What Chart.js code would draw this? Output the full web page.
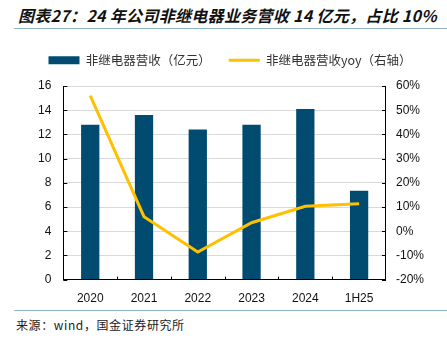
<!DOCTYPE html>
<html>
<head>
<meta charset="utf-8">
<script src="https://cdn.jsdelivr.net/npm/chart.js@4"></script>
<style>
  html, body { margin: 0; padding: 0; background: #fff; }
  body { width: 447px; height: 341px; position: relative; overflow: hidden; font-family: "Noto Sans CJK SC", sans-serif; }
  #titulo { position: absolute; left: 18px; top: 3px; font-size: 16px; font-weight: bold; font-style: italic; color: #111; white-space: nowrap; letter-spacing: 0.3px; }
  .regla { position: absolute; left: 14px; right: 0; height: 1px; background: #8fb4c9; }
  #fuente { position: absolute; left: 16px; top: 316px; font-size: 12px; color: #222; white-space: nowrap; letter-spacing: 0.6px; }
  #caja { position: absolute; left: 0; top: 26px; width: 447px; height: 284px; }
</style>
</head>
<body>
<div id="titulo">图表27：24 年公司非继电器业务营收 14 亿元，占比 10%</div>
<div class="regla" style="top:28px"></div>
<div id="caja"><canvas id="grafico"></canvas></div>
<div class="regla" style="top:310px"></div>
<div id="fuente">来源：wind，国金证券研究所</div>
<script>
const categorias = ['2020', '2021', '2022', '2023', '2024', '1H25'];
const ingresos = [12.8, 13.6, 12.4, 12.8, 14.1, 7.35];
const yoy = [56, 6, -8.6, 3.5, 10.3, 11.3];
const etiquetaBarras = '非继电器营收（亿元）';
const etiquetaLinea = '非继电器营收yoy（右轴）';

const colorBarra = '#004B6F';
const colorLinea = '#FFC000';

// marcas cortas hacia dentro del area, como en el original
const marcasInternas = {
    id: 'marcasInternas',
    afterDatasetsDraw(chart) {
        const ctx = chart.ctx;
        const { x, y, yDer } = chart.scales;
        ctx.save();
        ctx.strokeStyle = '#000';
        ctx.lineWidth = 1;
        ctx.beginPath();
        y.ticks.forEach((t, i) => {
            const py = Math.round(y.getPixelForTick(i)) + 0.5;
            ctx.moveTo(y.right, py);
            ctx.lineTo(y.right + 4, py);
        });
        yDer.ticks.forEach((t, i) => {
            const py = Math.round(yDer.getPixelForTick(i)) + 0.5;
            ctx.moveTo(yDer.left, py);
            ctx.lineTo(yDer.left - 4, py);
        });
        for (let i = 1; i < categorias.length; i++) {
            const px = Math.round((x.getPixelForValue(i - 1) + x.getPixelForValue(i)) / 2) + 0.5;
            ctx.moveTo(px, x.top);
            ctx.lineTo(px, x.top - 3);
        }
        ctx.stroke();
        ctx.restore();
    },
};

// alto fijo de la leyenda para que el area del grafico empiece donde el original
const altoLeyenda = {
    id: 'altoLeyenda',
    beforeInit(chart) {
        const fitOriginal = chart.legend.fit;
        chart.legend.fit = function () {
            fitOriginal.bind(this)();
            this.height = 50;
        };
    },
};

new Chart(document.getElementById('grafico'), {
    data: {
        labels: categorias,
        datasets: [
            {
                type: 'line',
                label: etiquetaLinea,
                data: yoy,
                yAxisID: 'yDer',
                borderColor: colorLinea,
                backgroundColor: colorLinea,
                borderWidth: 3,
                pointRadius: 0,
                pointStyle: 'line',
                tension: 0,
                order: 0,
            },
            {
                type: 'bar',
                label: etiquetaBarras,
                data: ingresos,
                yAxisID: 'y',
                backgroundColor: colorBarra,
                borderWidth: 0,
                pointStyle: 'rect',
                categoryPercentage: 1,
                barPercentage: 0.34,
                order: 1,
            },
        ],
    },
    options: {
        responsive: true,
        maintainAspectRatio: false,
        animation: false,
        layout: { padding: { left: 26, right: 13, top: 10, bottom: 0 } },
        plugins: {
            legend: {
                reverse: true,
                labels: {
                    usePointStyle: true,
                    pointStyleWidth: 31,
                    boxHeight: 8,
                    padding: 18,
                    color: '#333',
                    font: { family: '"Noto Sans CJK SC"', size: 12.5 },
                },
            },
            tooltip: { enabled: false },
        },
        scales: {
            x: {
                grid: { display: false },
                border: { color: '#000', width: 1 },
                ticks: { color: '#111', font: { family: 'Liberation Sans', size: 12 }, padding: 4 },
            },
            y: {
                position: 'left',
                min: 0,
                max: 16,
                ticks: { stepSize: 2, color: '#111', font: { family: 'Liberation Sans', size: 12 }, padding: 12 },
                grid: { color: '#D9D9D9', drawTicks: false },
                border: { color: '#000', width: 1 },
            },
            yDer: {
                position: 'right',
                min: -20,
                max: 60,
                ticks: {
                    stepSize: 10,
                    color: '#111',
                    font: { family: 'Liberation Sans', size: 12 },
                    padding: 10,
                    callback: (v) => v + '%',
                },
                grid: { display: false, drawTicks: false },
                border: { color: '#000', width: 1 },
            },
        },
    },
    plugins: [marcasInternas, altoLeyenda],
});
</script>
</body>
</html>
